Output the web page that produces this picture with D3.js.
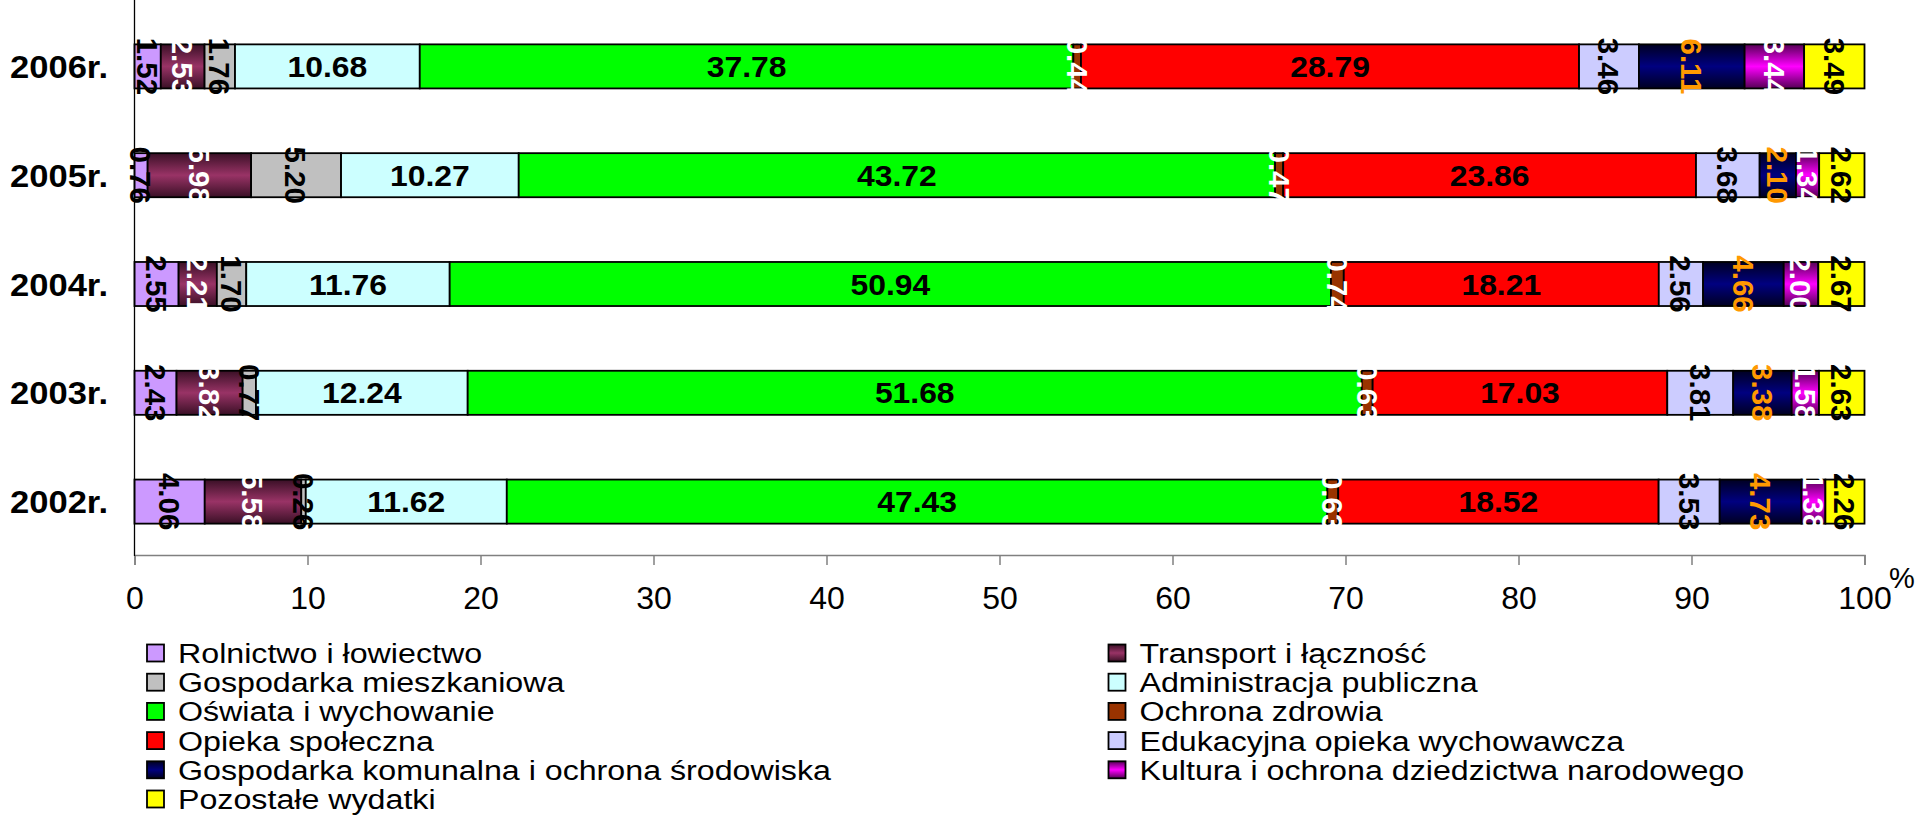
<!DOCTYPE html>
<html>
<head>
<meta charset="utf-8">
<script src="https://cdn.jsdelivr.net/npm/d3@7"></script>
<style>
  html, body { margin: 0; padding: 0; background: #fff; }
  svg { display: block; font-family: "Liberation Sans", Arial, sans-serif; }
</style>
</head>
<body>
<svg id="chart" width="1917" height="824"></svg>
<script>
// Struktura wydatków budżetu gminy (%), lata 2002–2006
const years = ["2006r.", "2005r.", "2004r.", "2003r.", "2002r."];

const seriesNames = [
  "Rolnictwo i łowiectwo",
  "Transport i łączność",
  "Gospodarka mieszkaniowa",
  "Administracja publiczna",
  "Oświata i wychowanie",
  "Ochrona zdrowia",
  "Opieka społeczna",
  "Edukacyjna opieka wychowawcza",
  "Gospodarka komunalna i ochrona środowiska",
  "Kultura i ochrona dziedzictwa narodowego",
  "Pozostałe wydatki"
];

// values per series, in the order of `years`
const rolnictwo      = [1.52, 0.76, 2.55, 2.43, 4.06];
const transport      = [2.53, 5.98, 2.21, 3.82, 5.58];
const mieszkaniowa   = [1.76, 5.20, 1.70, 0.77, 0.26];
const administracja  = [10.68, 10.27, 11.76, 12.24, 11.62];
const oswiata        = [37.78, 43.72, 50.94, 51.68, 47.43];
const ochronaZdrowia = [0.44, 0.47, 0.74, 0.63, 0.63];
const opieka         = [28.79, 23.86, 18.21, 17.03, 18.52];
const edukacyjna     = [3.46, 3.68, 2.56, 3.81, 3.53];
const komunalna      = [6.11, 2.10, 4.66, 3.38, 4.73];
const kultura        = [3.44, 1.34, 2.00, 1.58, 1.38];
const pozostale      = [3.49, 2.62, 2.67, 2.63, 2.26];

const xTicks = [0, 10, 20, 30, 40, 50, 60, 70, 80, 90, 100];

const seriesValues = [rolnictwo, transport, mieszkaniowa, administracja, oswiata,
  ochronaZdrowia, opieka, edukacyjna, komunalna, kultura, pozostale];

// fill per series: plain colour or a shaded (cylinder-like) gradient
const fills = [
  { c: "#CC99FF" },
  { c: "#993366", g: ["#3a1026", "#993366", "#3a1026"] },
  { c: "#C0C0C0" },
  { c: "#CCFFFF" },
  { c: "#00FF00" },
  { c: "#993300" },
  { c: "#FF0000" },
  { c: "#CCCCFF" },
  { c: "#000080", g: ["#000022", "#000080", "#000022"] },
  { c: "#FF00FF", g: ["#550055", "#FF00FF", "#550055"] },
  { c: "#FFFF00" }
];
const labelColors = ["#000", "#fff", "#000", "#000", "#000", "#fff", "#000", "#000", "#FF9900", "#fff", "#000"];
const horizontalLabel = [false, false, false, true, true, false, true, false, false, false, false];

const rows = years.map((y, i) => {
  const r = { year: y };
  seriesNames.forEach((s, k) => r[s] = seriesValues[k][i]);
  return r;
});

const svg = d3.select("#chart");
const defs = svg.append("defs");
fills.forEach((f, i) => {
  if (!f.g) return;
  const lg = defs.append("linearGradient").attr("id", "grad" + i)
    .attr("x1", 0).attr("y1", 0).attr("x2", 0).attr("y2", 1);
  lg.append("stop").attr("offset", "0%").attr("stop-color", f.g[0]);
  lg.append("stop").attr("offset", "50%").attr("stop-color", f.g[1]);
  lg.append("stop").attr("offset", "100%").attr("stop-color", f.g[2]);
});
const fillOf = i => fills[i].g ? `url(#grad${i})` : fills[i].c;

const x = d3.scaleLinear().domain([0, 100]).range([134.5, 1864.5]);
const y = d3.scaleBand().domain(years).range([12, 556]).paddingInner(0.595).paddingOuter(0.2975);

const stack = d3.stack().keys(seriesNames)(rows);

// x axis
const xAxis = svg.append("g")
  .attr("transform", `translate(0,${y.range()[1] - 1})`)
  .call(d3.axisBottom(x).tickValues(xTicks).tickSize(10).tickPadding(21).tickFormat(d3.format("d")));
xAxis.select(".domain").attr("stroke", "#808080").attr("stroke-width", 1.5);
xAxis.selectAll(".tick line").attr("stroke", "#808080").attr("stroke-width", 1.5);
xAxis.selectAll(".tick text").attr("font-size", 32).attr("fill", "#000")
  .attr("font-family", "'Liberation Sans', Arial, sans-serif");

svg.append("text").attr("x", 1889).attr("y", 588).attr("font-size", 29).text("%");

// bars
const layer = svg.append("g").selectAll("g").data(stack).join("g");
layer.selectAll("rect").data((d, i) => d.map(p => ({ p, i, key: d.key })))
  .join("rect")
  .attr("x", d => x(d.p[0]))
  .attr("y", d => y(d.p.data.year))
  .attr("width", d => x(d.p[1]) - x(d.p[0]))
  .attr("height", y.bandwidth())
  .attr("fill", d => fillOf(d.i))
  .attr("stroke", "#000").attr("stroke-width", 1.8);

// y axis line
svg.append("line").attr("x1", x(0)).attr("x2", x(0))
  .attr("y1", 0).attr("y2", y.range()[1]).attr("stroke", "#000").attr("stroke-width", 1.3);

// category labels
svg.append("g").selectAll("text").data(years).join("text")
  .attr("transform", d => `translate(108,${y(d) + y.bandwidth() / 2}) scale(1.08,1)`)
  .attr("text-anchor", "end").attr("dy", "0.36em")
  .attr("font-size", 32).attr("font-weight", "bold").text(d => d);

// value labels
const labels = svg.append("g");
stack.forEach((s, i) => {
  s.forEach(p => {
    const cx = (x(p[0]) + x(p[1])) / 2;
    const cy = y(p.data.year) + y.bandwidth() / 2;
    const v = p[1] - p[0];
    const t = labels.append("text")
      .attr("text-anchor", "middle").attr("dy", "0.36em")
      .attr("font-size", 29.5).attr("font-weight", "bold")
      .attr("fill", labelColors[i])
      .text(v.toFixed(2));
    if (horizontalLabel[i]) t.attr("transform", `translate(${cx},${cy}) scale(1.08,1)`);
    else t.attr("transform", `translate(${cx},${cy}) rotate(90)`);
  });
});

// legend, two columns
const legend = svg.append("g");
seriesNames.forEach((name, i) => {
  const col = i % 2, row = Math.floor(i / 2);
  const lx = col === 0 ? 147 : 1108.5;
  const ly = 653 + row * 29.2;
  legend.append("rect").attr("x", lx).attr("y", ly - 8.5).attr("width", 17).attr("height", 17)
    .attr("fill", fillOf(i)).attr("stroke", "#000").attr("stroke-width", 1.8);
  legend.append("text")
    .attr("transform", `translate(${lx + 31},${ly}) scale(1.15,1)`)
    .attr("dy", "0.36em").attr("font-size", 28).text(name);
});
</script>
</body>
</html>
